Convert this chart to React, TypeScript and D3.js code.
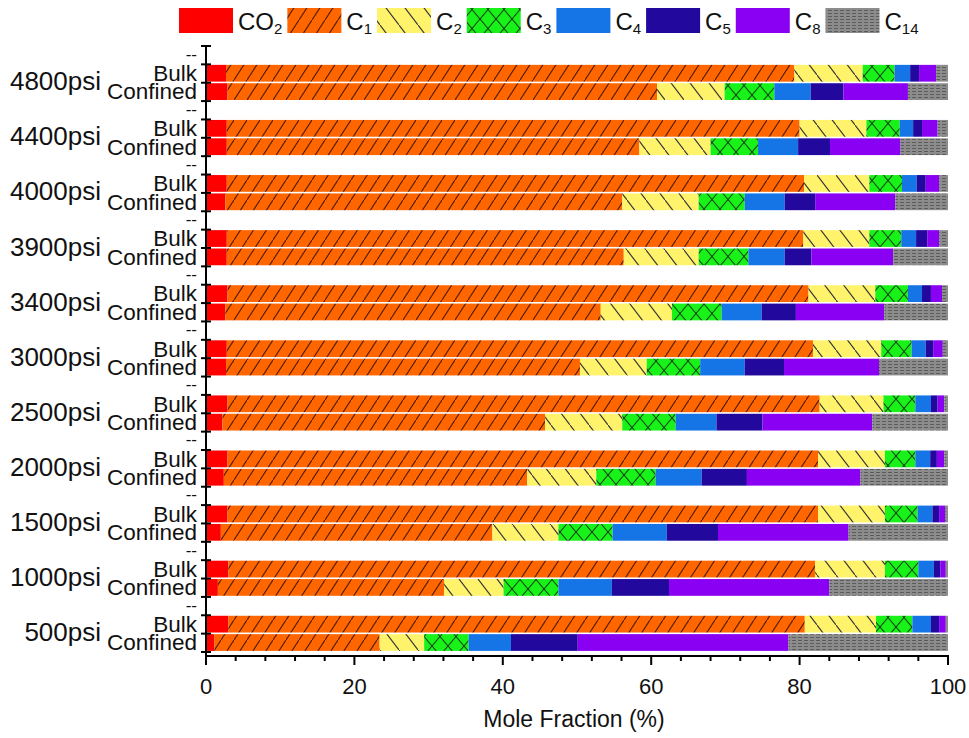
import React, { useEffect, useRef } from 'react';
import * as d3 from 'd3';

const pressures = ['4800psi', '4400psi', '4000psi', '3900psi', '3400psi', '3000psi', '2500psi', '2000psi', '1500psi', '1000psi', '500psi'];
const conditions = ['Bulk', 'Confined'];
const components = ['CO2', 'C1', 'C2', 'C3', 'C4', 'C5', 'C8', 'C14'];
const legendBase = ['CO', 'C', 'C', 'C', 'C', 'C', 'C', 'C'];
const legendSub = ['2', '1', '2', '3', '4', '5', '8', '14'];
const xTicks = [0, 20, 40, 60, 80, 100];

// Bulk compositions (mol %), one value per pressure (top to bottom)
const bulkCO2 = [2.7, 2.8, 2.8, 2.8, 2.9, 2.8, 2.9, 2.9, 2.9, 3.0, 3.0];
const bulkC1 = [76.6, 77.2, 77.8, 77.7, 78.3, 79.0, 79.8, 79.6, 79.6, 79.1, 77.7];
const bulkC2 = [9.2, 9.0, 8.8, 8.9, 9.0, 9.2, 8.6, 9.0, 9.0, 9.4, 9.6];
const bulkC3 = [4.3, 4.5, 4.4, 4.3, 4.4, 4.1, 4.3, 4.1, 4.4, 4.5, 4.9];
const bulkC4 = [2.1, 1.8, 2.0, 2.0, 1.9, 1.9, 2.1, 2.0, 2.0, 2.1, 2.5];
const bulkC5 = [1.2, 1.2, 1.2, 1.5, 1.2, 1.0, 0.9, 0.9, 0.9, 0.9, 1.1];
const bulkC8 = [2.3, 2.1, 1.8, 1.6, 1.5, 1.3, 0.9, 1.0, 0.8, 0.7, 0.9];
const bulkC14 = [1.6, 1.4, 1.2, 1.2, 0.8, 0.7, 0.5, 0.5, 0.4, 0.3, 0.3];

// Confined compositions (mol %)
const confCO2 = [2.9, 2.8, 2.6, 2.8, 2.6, 2.7, 2.2, 2.4, 2.0, 1.6, 1.1];
const confC1 = [57.9, 55.6, 53.5, 53.5, 50.6, 47.7, 43.5, 40.9, 36.6, 30.5, 22.3];
const confC2 = [9.1, 9.6, 10.3, 10.1, 9.6, 9.0, 10.4, 9.3, 8.9, 8.0, 6.0];
const confC3 = [6.7, 6.4, 6.2, 6.7, 6.7, 7.2, 7.2, 8.0, 7.3, 7.4, 6.0];
const confC4 = [4.9, 5.4, 5.4, 4.9, 5.4, 6.0, 5.5, 6.2, 7.3, 7.2, 5.7];
const confC5 = [4.4, 4.3, 4.1, 3.6, 4.6, 5.3, 6.2, 6.1, 6.9, 7.7, 9.0];
const confC8 = [8.7, 9.5, 10.8, 11.0, 11.9, 12.8, 14.8, 15.3, 17.6, 21.6, 28.4];
const confC14 = [5.4, 6.4, 7.1, 7.4, 8.6, 9.3, 10.2, 11.8, 13.4, 16.0, 21.5];

const bulkSeries = [bulkCO2, bulkC1, bulkC2, bulkC3, bulkC4, bulkC5, bulkC8, bulkC14];
const confSeries = [confCO2, confC1, confC2, confC3, confC4, confC5, confC8, confC14];

const FONT = '"Liberation Sans", Arial, sans-serif';

export default function App() {
  const ref = useRef<SVGSVGElement | null>(null);

  useEffect(() => {
    const svg = d3.select(ref.current);
    svg.selectAll('*').remove();

    const left = 206, right = 948, top = 46, bottom = 652, axisY = 656;

    const defs = svg.append('defs');
    const colors: Record<string, string> = {
      CO2: '#ff0000', C1: '#ff6600', C2: '#fff36b', C3: '#19f219',
      C4: '#1675e6', C5: '#22089c', C8: '#8a00f2', C14: '#858585',
    };
    const p1 = defs.append('pattern').attr('id', 'pC1').attr('patternUnits', 'userSpaceOnUse').attr('width', 13).attr('height', 20);
    p1.append('rect').attr('width', 13).attr('height', 20).attr('fill', colors.C1);
    p1.append('line').attr('x1', 0).attr('y1', 20).attr('x2', 13).attr('y2', 0).attr('stroke', '#4a1800').attr('stroke-width', 1.1);
    const p2 = defs.append('pattern').attr('id', 'pC2').attr('patternUnits', 'userSpaceOnUse').attr('width', 19).attr('height', 25);
    p2.append('rect').attr('width', 19).attr('height', 25).attr('fill', colors.C2);
    p2.append('line').attr('x1', 0).attr('y1', 0).attr('x2', 19).attr('y2', 25).attr('stroke', '#333').attr('stroke-width', 1.1);
    const p3 = defs.append('pattern').attr('id', 'pC3').attr('patternUnits', 'userSpaceOnUse').attr('width', 16).attr('height', 19);
    p3.append('rect').attr('width', 16).attr('height', 19).attr('fill', colors.C3);
    p3.append('line').attr('x1', 0).attr('y1', 0).attr('x2', 16).attr('y2', 19).attr('stroke', '#114411').attr('stroke-width', 1.1);
    p3.append('line').attr('x1', 0).attr('y1', 19).attr('x2', 16).attr('y2', 0).attr('stroke', '#114411').attr('stroke-width', 1.1);
    const p14 = defs.append('pattern').attr('id', 'pC14').attr('patternUnits', 'userSpaceOnUse').attr('width', 6).attr('height', 3);
    p14.append('rect').attr('width', 6).attr('height', 3).attr('fill', '#8c8c8c');
    p14.append('rect').attr('x', 0).attr('y', 1).attr('width', 4).attr('height', 1).attr('fill', '#5c5c5c');

    const fillFor = (k: string) => {
      if (k === 'C1') return 'url(#pC1)';
      if (k === 'C2') return 'url(#pC2)';
      if (k === 'C3') return 'url(#pC3)';
      if (k === 'C14') return 'url(#pC14)';
      return colors[k];
    };

    const rowLabels: string[] = [];
    const rows: any[] = [];
    pressures.forEach((p, i) => {
      rowLabels.push('--');
      conditions.forEach((c, ci) => {
        const src = ci === 0 ? bulkSeries : confSeries;
        const obj: any = { row: rowLabels.length, pressure: p, condition: c };
        components.forEach((k, ki) => { obj[k] = src[ki][i]; });
        rows.push(obj);
        rowLabels.push(c);
      });
    });

    const x = d3.scaleLinear().domain([0, 100]).range([left, right]);
    const y = d3.scaleBand<number>().domain(d3.range(rowLabels.length)).range([top, bottom]).padding(0);
    const bw = y.bandwidth();

    const series = d3.stack<any>().keys(components)(rows);

    const gBars = svg.append('g');
    series.forEach((s) => {
      gBars.selectAll(null).data(s).enter().append('rect')
        .attr('x', (d) => x(d[0]))
        .attr('width', (d) => Math.max(0, x(d[1]) - x(d[0])))
        .attr('y', (d: any) => (y(d.data.row) as number) + 0.5)
        .attr('height', bw - 1.6)
        .attr('fill', fillFor(s.key));
    });

    const ax = svg.append('g').attr('stroke', '#000');
    ax.append('line').attr('x1', left).attr('x2', left).attr('y1', top).attr('y2', axisY).attr('stroke-width', 2);
    d3.range(rowLabels.length + 1).forEach((i) => {
      const yy = top + i * bw;
      ax.append('line').attr('x1', left - 5).attr('x2', left + 5).attr('y1', yy).attr('y2', yy).attr('stroke-width', 2);
    });
    const yl = svg.append('g').attr('font-family', FONT).attr('fill', '#111');
    rowLabels.forEach((lab, i) => {
      yl.append('text').attr('x', 197).attr('y', (y(i) as number) + bw / 2 + (lab === '--' ? -1 : 0))
        .attr('text-anchor', 'end').attr('dominant-baseline', 'central')
        .attr('font-size', lab === '--' ? 17 : 22.5).text(lab);
    });
    pressures.forEach((p, i) => {
      const yy = top + (i * 3 + 2) * bw;
      yl.append('text').attr('x', 101).attr('y', yy - 1.5).attr('text-anchor', 'end')
        .attr('dominant-baseline', 'central').attr('font-size', 26).text(p);
    });

    ax.append('line').attr('x1', left - 1).attr('x2', right + 1).attr('y1', axisY).attr('y2', axisY).attr('stroke-width', 2);
    d3.range(0, 101, 4).forEach((v) => {
      const major = v % 20 === 0;
      ax.append('line').attr('x1', x(v)).attr('x2', x(v)).attr('y1', axisY).attr('y2', axisY + (major ? 9 : 5)).attr('stroke-width', 2);
    });
    xTicks.forEach((v) => {
      yl.append('text').attr('x', x(v)).attr('y', 686).attr('text-anchor', 'middle')
        .attr('dominant-baseline', 'central').attr('font-size', 22).text(String(v));
    });
    yl.append('text').attr('x', 574).attr('y', 719).attr('text-anchor', 'middle')
      .attr('dominant-baseline', 'central').attr('font-size', 23).text('Mole Fraction (%)');

    const lg = svg.append('g').attr('font-family', FONT).attr('fill', '#111');
    let cx = 179;
    components.forEach((k, i) => {
      lg.append('rect').attr('x', cx).attr('y', 8).attr('width', 54).attr('height', 25).attr('fill', fillFor(k));
      const t = lg.append('text').attr('x', cx + 59).attr('y', 30).attr('font-size', 24);
      t.append('tspan').text(legendBase[i]);
      t.append('tspan').attr('font-size', 15).attr('dy', 4).text(legendSub[i]);
      const w = (t.node() as SVGTextElement).getComputedTextLength();
      cx = cx + 59 + w + 5;
    });
  }, []);

  return (
    <svg ref={ref} width={969} height={738} style={{ position: 'absolute', left: 0, top: 0, background: '#fff' }} />
  );
}
